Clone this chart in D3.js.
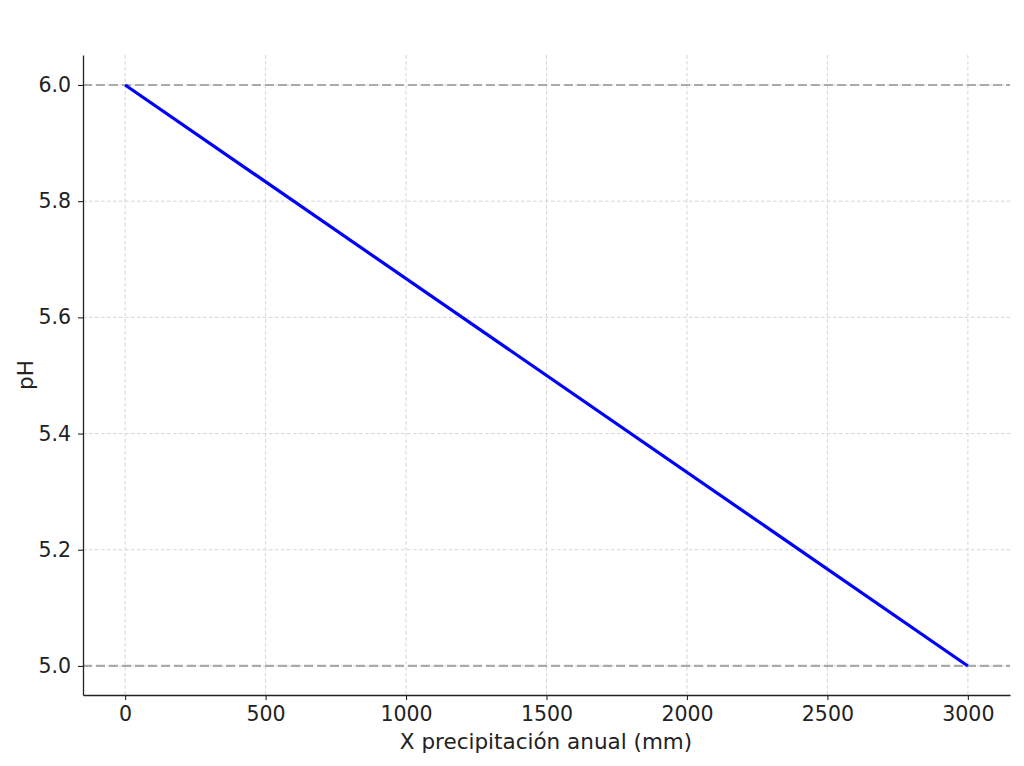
<!DOCTYPE html>
<html><head><meta charset="utf-8">
<script src="https://cdn.jsdelivr.net/npm/d3@7"></script>
<style>body{margin:0;background:#fff}svg{display:block}</style>
</head><body>
<svg id="c" width="1024" height="766"></svg>
<script>
const precip = [0, 3000];
const phValues = [6.0, 5.0];
const xTicks = [0, 500, 1000, 1500, 2000, 2500, 3000];
const yTicks = [5.0, 5.2, 5.4, 5.6, 5.8, 6.0];
const refLines = [6.0, 5.0];
const xLabel = "X precipitación anual (mm)";
const yLabel = "pH";

const svg = d3.select("#c");
const m = {l:83, r:1010, t:55, b:695};
const x = d3.scaleLinear().domain([-150, 3150]).range([m.l, m.r]);
const y = d3.scaleLinear().domain([4.95, 6.0516]).range([m.b, m.t]);
const font = "DejaVu Sans, sans-serif";
const fs = "20.5px";
const lfs = "21.5px";

// grid
svg.append("g").selectAll("line").data(xTicks).join("line")
  .attr("x1", d=>x(d)).attr("x2", d=>x(d)).attr("y1", m.t).attr("y2", m.b)
  .attr("stroke", "#d0d0d0").attr("stroke-width", 0.9).attr("stroke-dasharray", "3.5,2.5");
svg.append("g").selectAll("line").data(yTicks).join("line")
  .attr("x1", m.l).attr("x2", m.r).attr("y1", d=>y(d)).attr("y2", d=>y(d))
  .attr("stroke", "#d0d0d0").attr("stroke-width", 0.9).attr("stroke-dasharray", "3.5,2.5");

// reference lines
svg.append("g").selectAll("line").data(refLines).join("line")
  .attr("x1", m.l).attr("x2", m.r).attr("y1", d=>y(d)).attr("y2", d=>y(d))
  .attr("stroke", "#aaaaaa").attr("stroke-width", 2.2).attr("stroke-dasharray", "9,4");

// line
svg.append("path").datum(precip.map((p,i)=>[p, phValues[i]]))
  .attr("d", d3.line().x(d=>x(d[0])).y(d=>y(d[1])))
  .attr("fill", "none").attr("stroke", "#0000ff").attr("stroke-width", 3.2);

// axes
const xa = svg.append("g").attr("transform", `translate(0,${m.b})`)
  .call(d3.axisBottom(x).tickValues(xTicks).tickFormat(d3.format("d")).tickSize(5).tickPadding(6).tickSizeOuter(0));
const ya = svg.append("g").attr("transform", `translate(${m.l},0)`)
  .call(d3.axisLeft(y).tickValues(yTicks).tickFormat(d3.format(".1f")).tickSize(5).tickPadding(7).tickSizeOuter(0));
[xa, ya].forEach(a=>{
  a.attr("font-size", null);
  a.select(".domain").attr("stroke", "#222").attr("stroke-width", 1.3);
  a.selectAll(".tick line").attr("stroke", "#222").attr("stroke-width", 1.1);
  a.selectAll(".tick text").attr("fill", "#222").style("font-family", font).style("font-size", fs);
});

svg.append("text").attr("x", (m.l+m.r)/2 - 0.5).attr("y", 749).attr("text-anchor", "middle")
  .style("font-family", font).style("font-size", lfs).attr("fill", "#222").text(xLabel);
svg.append("text").attr("transform", `translate(33,${(m.t+m.b)/2}) rotate(-90)`).attr("text-anchor", "middle")
  .style("font-family", font).style("font-size", lfs).attr("fill", "#222").text(yLabel);
</script>
</body></html>
